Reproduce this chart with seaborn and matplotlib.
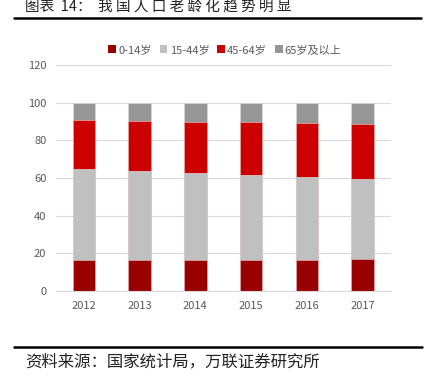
import matplotlib
matplotlib.use("Agg")
import matplotlib.pyplot as plt
import seaborn as sns
import pandas as pd
import numpy as np
from matplotlib.patches import Patch

years = ["2012", "2013", "2014", "2015", "2016", "2017"]
series_names = ["0-14岁", "15-44岁", "45-64岁", "65岁及以上"]
age_0_14 = [16.5, 16.4, 16.5, 16.5, 16.7, 16.8]
age_15_44 = [48.4, 47.3, 46.1, 44.9, 43.8, 42.6]
age_45_64 = [25.7, 26.6, 27.3, 28.1, 28.7, 29.2]
age_65_plus = [9.4, 9.7, 10.1, 10.5, 10.8, 11.4]
colors = ["#990000", "#C0C0C0", "#CC0000", "#969696"]

sns.set_theme(style="white")
plt.rcParams['font.family'] = ['Noto Sans CJK SC', 'DejaVu Sans']

layers = [age_0_14, age_15_44, age_45_64, age_65_plus]
cum = np.cumsum(np.array(layers), axis=0)

fig = plt.figure(figsize=(4.28, 3.86), dpi=100)
ax = fig.add_axes([56/428, 1 - 291/386, (390.5 - 56)/428, (291 - 65)/386])

for i in range(3, -1, -1):
    df = pd.DataFrame({"year": years, "val": cum[i]})
    sns.barplot(data=df, x="year", y="val", color=colors[i], width=0.4,
                saturation=1, ax=ax, edgecolor="#e6b0b0" if i in (0, 2) else "#d9d9d9",
                linewidth=0.5, zorder=2)

ax.set_ylim(0, 120)
ax.set_xlim(-0.5, 5.5)
ax.set_yticks(range(0, 121, 20))
ax.yaxis.grid(True, color="#D9D9D9", linewidth=0.8, zorder=0)
ax.set_axisbelow(True)
for s in ["top", "right", "left"]:
    ax.spines[s].set_visible(False)
ax.spines["bottom"].set_color("#D9D9D9")
ax.spines["bottom"].set_linewidth(0.8)
ax.set_xlabel("")
ax.set_ylabel("")
ax.tick_params(axis="both", length=0, labelsize=8, labelcolor="#595959")
ax.tick_params(axis="x", pad=7)
ax.tick_params(axis="y", pad=7)

handles = [Patch(facecolor=c, edgecolor="none") for c in colors]
fig.legend(handles, series_names, loc="center", bbox_to_anchor=(225/428, 1 - 50/386),
           ncol=4, frameon=False, fontsize=8, handlelength=0.7, handleheight=0.7,
           handletextpad=0.2, columnspacing=0.7, labelcolor="#595959")

# title and rules
fig.text(25/428, 1 - 7/386, "图表  14：  我 国 人 口 老 龄 化 趋 势 明 显", fontsize=10.5,
         color="#222222", ha="left", va="center")
fig.add_artist(plt.Line2D([14/428, 421/428], [1 - 18/386, 1 - 18/386], color="black", linewidth=1.8))
fig.add_artist(plt.Line2D([14/428, 422/428], [1 - 347/386, 1 - 347/386], color="black", linewidth=1.8))
fig.text(25/428, 1 - 362/386, "资料来源：国家统计局，万联证券研究所", fontsize=11.8, color="#222222",
         ha="left", va="center", style="italic")

fig.savefig("out.png", dpi=100)
